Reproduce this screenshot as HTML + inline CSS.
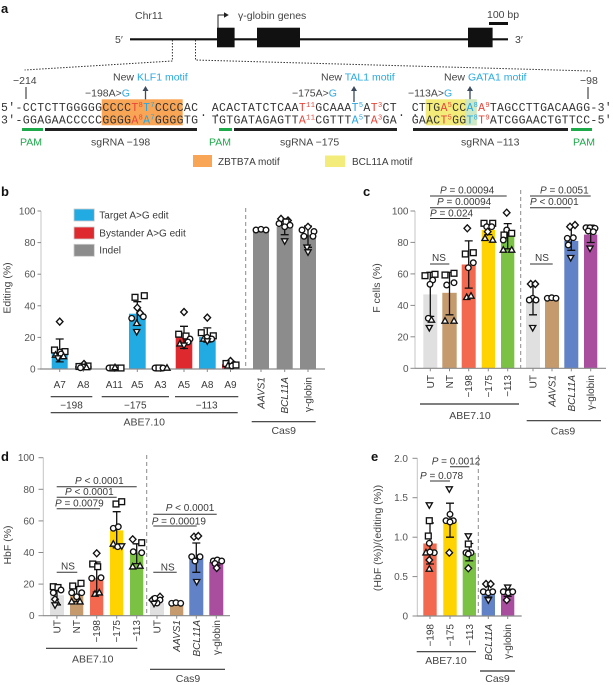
<!DOCTYPE html>
<html><head><meta charset="utf-8"><style>
html,body{margin:0;padding:0;background:#fff;}
svg{display:block;}
.t{font-family:"Liberation Sans",sans-serif;font-size:10px;fill:#3a3a3a;}
.tk{font-family:"Liberation Sans",sans-serif;font-size:10px;fill:#555;}
.lb{font-family:"Liberation Sans",sans-serif;font-size:10.5px;fill:#444;}
.pl{font-family:"Liberation Sans",sans-serif;font-size:13px;font-weight:bold;fill:#111;}
.seq{font-family:"Liberation Mono",monospace;font-size:11.5px;fill:#333;}
.sup{font-size:7px;}
.r{fill:#E8463A;} .bl{fill:#2AA7DF;}
.eb{stroke:#111;stroke-width:1.3;fill:none;}
.ax{stroke:#8a8a8a;stroke-width:1.2;fill:none;}
.ya{stroke:#c4c4c4;stroke-width:1;fill:none;}
.tm{stroke:#8a8a8a;stroke-width:1;}
.sl{stroke:#333;stroke-width:1;}
.dl{stroke:#8a8a8a;stroke-width:1;stroke-dasharray:4,3;}
.gl{stroke:#333;stroke-width:1.2;}
</style></head><body>
<svg width="613" height="685" viewBox="0 0 613 685" xmlns="http://www.w3.org/2000/svg">
<defs>
<circle id="c" r="2.8" fill="#fff" stroke="#111" stroke-width="1.35"/>
<rect id="s" x="-2.9" y="-2.9" width="5.8" height="5.8" fill="#fff" stroke="#111" stroke-width="1.35"/>
<path id="tr" d="M0,-3.3 L3.1,2.2 L-3.1,2.2Z" fill="#fff" stroke="#111" stroke-width="1.35"/>
<path id="iv" d="M0,3.3 L3.1,-2.2 L-3.1,-2.2Z" fill="#fff" stroke="#111" stroke-width="1.35"/>
<path id="dm" d="M0,-3.5 L3.3,0 L0,3.5 L-3.3,0Z" fill="#fff" stroke="#111" stroke-width="1.35"/>
</defs>

<!-- ============ PANEL A ============ -->
<text class="pl" x="1" y="13">a</text>
<text class="lb" x="135" y="19">Chr11</text>
<path d="M218,28 V15 H225" stroke="#222" stroke-width="1" fill="none"/>
<path d="M224,12.3 L228.8,15 L224,17.7Z" fill="#222"/>
<text class="lb" x="238" y="19">γ-globin genes</text>
<text class="lb" x="487" y="18">100 bp</text>
<rect x="489" y="22" width="19" height="3" fill="#111"/>
<line x1="130" y1="39.3" x2="508" y2="39.3" stroke="#111" stroke-width="2.2"/>
<text class="lb" x="115" y="43" font-size="11">5′</text>
<text class="lb" x="515" y="43" font-size="11">3′</text>
<rect x="217" y="27.7" width="17.6" height="19.6" fill="#111"/>
<rect x="257" y="27.7" width="43" height="19.6" fill="#111"/>
<rect x="468" y="27.7" width="24.6" height="19.6" fill="#111"/>
<path d="M172.4,40 V61 L24.6,70 M195.5,40 V60 L591,71" stroke="#333" stroke-width="1" stroke-dasharray="1.5,1.5" fill="none"/>

<text class="lb" x="13" y="84">−214</text>
<text class="lb" x="580" y="84">−98</text>
<line x1="26" y1="87" x2="26" y2="99" stroke="#222" stroke-width="1"/>
<line x1="588" y1="87" x2="588" y2="99" stroke="#222" stroke-width="1"/>

<text class="lb" x="113" y="80.5">New <tspan fill="#29A9E0">KLF1 motif</tspan></text>
<text class="lb" x="321" y="80.5">New <tspan fill="#29A9E0">TAL1 motif</tspan></text>
<text class="lb" x="444" y="80.5">New <tspan fill="#29A9E0">GATA1 motif</tspan></text>

<text class="lb" x="85" y="96.5">−198A&gt;<tspan fill="#29A9E0">G</tspan></text>
<text class="lb" x="292" y="96.5">−175A&gt;<tspan fill="#29A9E0">G</tspan></text>
<text class="lb" x="408" y="96.5">−113A&gt;<tspan fill="#29A9E0">G</tspan></text>
<g stroke="#3C4A5C" stroke-width="1.3" fill="#3C4A5C">
<line x1="145.5" y1="102" x2="145.5" y2="90"/><path d="M142.5,91 L145.5,86 L148.5,91Z" stroke="none"/>
<line x1="354" y1="102" x2="354" y2="90"/><path d="M351,91 L354,86 L357,91Z" stroke="none"/>
<line x1="470" y1="102" x2="470" y2="90"/><path d="M467,91 L470,86 L473,91Z" stroke="none"/>
</g>

<rect x="101.7" y="99.3" width="81" height="26" fill="#F8A656"/>
<rect x="425.7" y="99.3" width="51" height="26" fill="#F3EC7A"/>
<rect x="465" y="99.3" width="11.7" height="26" fill="#CDE8C4"/>

<text class="seq" x="1" y="110.8" textLength="197" lengthAdjust="spacing">5′-CCTCTTGGGGGCCCC<tspan class="r">T</tspan><tspan class="r sup" dy="-4">8</tspan><tspan class="bl" dy="4">T</tspan><tspan class="bl sup" dy="-4">7</tspan><tspan dy="4">CCCCAC</tspan></text>
<text class="seq" x="1" y="123.3" textLength="197" lengthAdjust="spacing">3′-GGAGAACCCCCGGGG<tspan class="r">A</tspan><tspan class="r sup" dy="-4">8</tspan><tspan class="bl" dy="4">A</tspan><tspan class="bl sup" dy="-4">7</tspan><tspan dy="4">GGGGTG</tspan></text>

<text class="seq" x="200" y="116">. .</text>
<text class="seq" x="398" y="116">. .</text>

<text class="seq" x="211.7" y="110.8" textLength="185" lengthAdjust="spacing">ACACTATCTCAA<tspan class="r">T</tspan><tspan class="r sup" dy="-4">11</tspan><tspan dy="4">GCAAA</tspan><tspan class="bl">T</tspan><tspan class="bl sup" dy="-4">5</tspan><tspan dy="4">A</tspan><tspan class="r">T</tspan><tspan class="r sup" dy="-4">3</tspan><tspan dy="4">CT</tspan></text>
<text class="seq" x="211.7" y="123.3" textLength="185" lengthAdjust="spacing">TGTGATAGAGTT<tspan class="r">A</tspan><tspan class="r sup" dy="-4">11</tspan><tspan dy="4">CGTTT</tspan><tspan class="bl">A</tspan><tspan class="bl sup" dy="-4">5</tspan><tspan dy="4">T</tspan><tspan class="r">A</tspan><tspan class="r sup" dy="-4">3</tspan><tspan dy="4">GA</tspan></text>

<text class="seq" x="411.7" y="110.8" textLength="200" lengthAdjust="spacing">CTTG<tspan class="r">A</tspan><tspan class="r sup" dy="-4">5</tspan><tspan dy="4">CC</tspan><tspan class="bl">A</tspan><tspan class="bl sup" dy="-4">8</tspan><tspan class="r" dy="4">A</tspan><tspan class="r sup" dy="-4">9</tspan><tspan dy="4">TAGCCTTGACAAGG-3′</tspan></text>
<text class="seq" x="411.7" y="123.3" textLength="200" lengthAdjust="spacing">GAAC<tspan class="r">T</tspan><tspan class="r sup" dy="-4">5</tspan><tspan dy="4">GG</tspan><tspan class="bl">T</tspan><tspan class="bl sup" dy="-4">8</tspan><tspan class="r" dy="4">T</tspan><tspan class="r sup" dy="-4">9</tspan><tspan dy="4">ATCGGAACTGTTCC-5′</tspan></text>

<rect x="22" y="128" width="21" height="3" fill="#1DA84A"/>
<rect x="45" y="128" width="152" height="3" fill="#222"/>
<rect x="219" y="128" width="13" height="3" fill="#1DA84A"/>
<rect x="234" y="128" width="163" height="3" fill="#222"/>
<rect x="413" y="128" width="155" height="3" fill="#222"/>
<rect x="571" y="128" width="21" height="3" fill="#1DA84A"/>

<text class="lb" x="20" y="145.5" style="fill:#1DA84A">PAM</text>
<text class="lb" x="91" y="145.5">sgRNA −198</text>
<text class="lb" x="209" y="145.5" style="fill:#1DA84A">PAM</text>
<text class="lb" x="280" y="145.5">sgRNA −175</text>
<text class="lb" x="461" y="145.5">sgRNA −113</text>
<text class="lb" x="573" y="145.5" style="fill:#1DA84A">PAM</text>

<rect x="193" y="155" width="19" height="12" fill="#F8A656"/>
<text class="t" x="218" y="165" font-size="9.5">ZBTB7A motif</text>
<rect x="325" y="155.5" width="20" height="11.5" fill="#F3EC7A"/>
<text class="t" x="352" y="165" font-size="9.5">BCL11A motif</text>

<!-- ============ PANEL B ============ -->
<text class="pl" x="1" y="196">b</text>
<text class="lb" transform="rotate(-90 10.5 288)" x="10.5" y="288" text-anchor="middle">Editing (%)</text>
<line class="ya" x1="41" y1="211" x2="41" y2="369"/>
<g class="tm"><line x1="37.5" y1="369" x2="41" y2="369"/><line x1="37.5" y1="337.4" x2="41" y2="337.4"/><line x1="37.5" y1="305.8" x2="41" y2="305.8"/><line x1="37.5" y1="274.2" x2="41" y2="274.2"/><line x1="37.5" y1="242.6" x2="41" y2="242.6"/><line x1="37.5" y1="211" x2="41" y2="211"/></g>
<g class="tk" text-anchor="end"><text x="35.5" y="372.5">0</text><text x="35.5" y="340.9">20</text><text x="35.5" y="309.3">40</text><text x="35.5" y="277.7">60</text><text x="35.5" y="246.1">80</text><text x="35.5" y="214.5">100</text></g>

<rect x="51.7" y="351.6" width="16" height="17.4" fill="#22ABE3"/>
<rect x="75" y="366" width="16.7" height="3" fill="#DE2A2E"/>
<rect x="106" y="367.4" width="16.7" height="1.6" fill="#DE2A2E"/>
<rect x="129" y="313.7" width="16.7" height="55.3" fill="#22ABE3"/>
<rect x="152" y="367.4" width="17" height="1.6" fill="#DE2A2E"/>
<rect x="175.7" y="337.4" width="16.6" height="31.6" fill="#DE2A2E"/>
<rect x="199" y="337" width="16.7" height="32" fill="#22ABE3"/>
<rect x="222" y="364.3" width="17" height="4.7" fill="#DE2A2E"/>
<rect x="253" y="230" width="16" height="139" fill="#8C8C8C"/>
<rect x="276.7" y="226.8" width="16" height="142.2" fill="#8C8C8C"/>
<rect x="300" y="234.7" width="16" height="134.3" fill="#8C8C8C"/>

<line class="dl" x1="245.7" y1="208" x2="245.7" y2="369"/>
<line class="ax" x1="40" y1="369" x2="325" y2="369"/>
<g class="tm"><line x1="59.7" y1="369" x2="59.7" y2="372"/><line x1="83.3" y1="369" x2="83.3" y2="372"/><line x1="114.3" y1="369" x2="114.3" y2="372"/><line x1="137.3" y1="369" x2="137.3" y2="372"/><line x1="160.5" y1="369" x2="160.5" y2="372"/><line x1="184" y1="369" x2="184" y2="372"/><line x1="207.3" y1="369" x2="207.3" y2="372"/><line x1="230.5" y1="369" x2="230.5" y2="372"/><line x1="261" y1="369" x2="261" y2="372"/><line x1="284.7" y1="369" x2="284.7" y2="372"/><line x1="308" y1="369" x2="308" y2="372"/></g>

<path class="eb" d="M59.7,339V361.9M55.7,339H63.7M55.7,361.9H63.7 M83.3,363.5V368.2M79.3,363.5H87.3 M137.3,301.7V325.1M133.3,301.7H141.3M133.3,325.1H141.3 M184,326.3V348.5M180,326.3H188M180,348.5H188 M207.3,327.9V342.1M203.3,327.9H211.3M203.3,342.1H211.3 M230.5,361.1V366.6M226.5,361.1H234.5 M261,228.4V231.5M257,228.4H265 M284.7,218.9V234.7M280.7,218.9H288.7M280.7,234.7H288.7 M308,226V247.3M304,226H312M304,247.3H312"/>

<use href="#dm" x="59.7" y="321.6"/><use href="#s" x="54.5" y="350"/><use href="#s" x="65" y="351.6"/><use href="#c" x="60" y="352"/><use href="#c" x="61" y="354"/><use href="#tr" x="55.5" y="355"/><use href="#tr" x="63.5" y="356.5"/><use href="#iv" x="58" y="358"/>
<use href="#dm" x="84" y="364"/><use href="#s" x="79" y="366.5"/><use href="#s" x="88" y="366"/><use href="#c" x="83" y="367"/><use href="#tr" x="86.5" y="367.5"/><use href="#c" x="80.5" y="367.8"/>
<use href="#c" x="109" y="368"/><use href="#s" x="113" y="368"/><use href="#c" x="117" y="368"/><use href="#s" x="121" y="368"/><use href="#tr" x="115" y="367.5"/>
<use href="#s" x="144.3" y="295.7"/><use href="#s" x="135" y="297.3"/><use href="#dm" x="137.3" y="307.7"/><use href="#dm" x="140" y="313"/><use href="#c" x="131.7" y="318.3"/><use href="#c" x="143.3" y="316.7"/><use href="#tr" x="136.7" y="323.3"/><use href="#iv" x="136.7" y="331.7"/>
<use href="#c" x="155" y="368"/><use href="#s" x="159" y="368"/><use href="#c" x="163" y="368"/><use href="#tr" x="167" y="368"/>
<use href="#dm" x="184" y="312"/><use href="#s" x="178.7" y="334.2"/><use href="#s" x="186" y="336"/><use href="#c" x="190" y="339"/><use href="#c" x="188" y="342"/><use href="#tr" x="180" y="343.7"/><use href="#iv" x="184" y="345.3"/>
<use href="#dm" x="207.3" y="317.6"/><use href="#s" x="201.3" y="332.7"/><use href="#s" x="213.3" y="335.8"/><use href="#c" x="207" y="337.4"/><use href="#tr" x="203.7" y="339"/><use href="#c" x="211.7" y="339"/><use href="#iv" x="207.3" y="341"/>
<use href="#dm" x="230.5" y="361"/><use href="#s" x="226" y="363.5"/><use href="#c" x="234" y="364.3"/><use href="#tr" x="228" y="365.8"/><use href="#c" x="232" y="366"/><use href="#s" x="236" y="365"/>
<use href="#c" x="256" y="230"/><use href="#c" x="261" y="229.3"/><use href="#c" x="266" y="230"/>
<use href="#dm" x="281" y="218.9"/><use href="#dm" x="288" y="220.5"/><use href="#s" x="286" y="222"/><use href="#c" x="279" y="223.6"/><use href="#c" x="290" y="225.2"/><use href="#c" x="284.7" y="226.8"/><use href="#iv" x="284.7" y="241"/>
<use href="#dm" x="308" y="226.8"/><use href="#c" x="302" y="230"/><use href="#c" x="314" y="231.5"/><use href="#c" x="304" y="236.3"/><use href="#c" x="313" y="236.3"/><use href="#iv" x="307" y="247.3"/><use href="#iv" x="308" y="252"/>

<rect x="74" y="209" width="20.3" height="12" fill="#22ABE3" stroke="#ccc" stroke-width="0.8"/>
<rect x="74" y="227" width="20.3" height="12" fill="#DE2A2E" stroke="#ccc" stroke-width="0.8"/>
<rect x="74" y="244.3" width="20.3" height="12" fill="#8C8C8C" stroke="#ccc" stroke-width="0.8"/>
<text class="t" x="99.3" y="218.5">Target A&gt;G edit</text>
<text class="t" x="99.3" y="236.5">Bystander A&gt;G edit</text>
<text class="t" x="99.3" y="253.5">Indel</text>

<g class="t" text-anchor="middle"><text x="59.7" y="388">A7</text><text x="83.3" y="388">A8</text><text x="114.3" y="388">A11</text><text x="137.3" y="388">A5</text><text x="160.5" y="388">A3</text><text x="184" y="388">A5</text><text x="207.3" y="388">A8</text><text x="230.5" y="388">A9</text></g>
<g class="t" text-anchor="end" font-style="italic"><text transform="rotate(-90 264.5 377)" x="264.5" y="377">AAVS1</text><text transform="rotate(-90 288.2 377)" x="288.2" y="377">BCL11A</text></g>
<text class="t" text-anchor="end" transform="rotate(-90 311.5 377)" x="311.5" y="377">γ-globin</text>
<line class="gl" x1="50.7" y1="396.7" x2="92.3" y2="396.7"/><line class="gl" x1="101.7" y1="396.7" x2="169" y2="396.7"/><line class="gl" x1="175" y1="396.7" x2="238.3" y2="396.7"/>
<g class="t" text-anchor="middle"><text x="71.5" y="408.5">−198</text><text x="135.3" y="408.5">−175</text><text x="206.7" y="408.5">−113</text></g>
<line class="gl" x1="50.7" y1="412.7" x2="237.7" y2="412.7"/>
<text class="lb" x="144.2" y="425.5" text-anchor="middle">ABE7.10</text>
<line class="gl" x1="251.7" y1="421.7" x2="315.7" y2="421.7"/>
<text class="lb" x="283.7" y="434" text-anchor="middle">Cas9</text>

<!-- ============ PANEL C ============ -->
<text class="pl" x="363" y="196">c</text>
<text class="lb" transform="rotate(-90 380 288)" x="380" y="288" text-anchor="middle">F cells (%)</text>
<line class="ya" x1="415" y1="211" x2="415" y2="368.3"/>
<g class="tm"><line x1="410.5" y1="368.3" x2="415" y2="368.3"/><line x1="410.5" y1="336.8" x2="415" y2="336.8"/><line x1="410.5" y1="305.4" x2="415" y2="305.4"/><line x1="410.5" y1="273.9" x2="415" y2="273.9"/><line x1="410.5" y1="242.4" x2="415" y2="242.4"/><line x1="410.5" y1="211" x2="415" y2="211"/></g>
<g class="tk" text-anchor="end"><text x="408.5" y="371.8">0</text><text x="408.5" y="340.3">20</text><text x="408.5" y="308.9">40</text><text x="408.5" y="277.4">60</text><text x="408.5" y="245.9">80</text><text x="408.5" y="214.5">100</text></g>

<rect x="423.3" y="294.4" width="14" height="73.9" fill="#E0E0E0"/>
<rect x="442.3" y="292.8" width="14.4" height="75.5" fill="#C59B6D"/>
<rect x="461.7" y="264.5" width="14" height="103.8" fill="#F2694F"/>
<rect x="481.7" y="229.9" width="13.3" height="138.4" fill="#FFD300"/>
<rect x="501" y="234.6" width="13.3" height="133.7" fill="#7BC143"/>
<rect x="526" y="299.1" width="14" height="69.2" fill="#E0E0E0"/>
<rect x="545" y="297.5" width="14" height="70.8" fill="#C59B6D"/>
<rect x="564.3" y="240.9" width="14" height="127.4" fill="#6182C6"/>
<rect x="584" y="234.6" width="13.3" height="133.7" fill="#A94E9F"/>
<line class="dl" x1="520.7" y1="190" x2="520.7" y2="368.3"/>
<line class="ax" x1="415" y1="368.3" x2="606" y2="368.3"/>
<g class="tm"><line x1="430.3" y1="368.3" x2="430.3" y2="371.3"/><line x1="449.5" y1="368.3" x2="449.5" y2="371.3"/><line x1="468.7" y1="368.3" x2="468.7" y2="371.3"/><line x1="488.3" y1="368.3" x2="488.3" y2="371.3"/><line x1="507.7" y1="368.3" x2="507.7" y2="371.3"/><line x1="533" y1="368.3" x2="533" y2="371.3"/><line x1="552" y1="368.3" x2="552" y2="371.3"/><line x1="571.3" y1="368.3" x2="571.3" y2="371.3"/><line x1="590.7" y1="368.3" x2="590.7" y2="371.3"/></g>

<path class="eb" d="M430.3,272.3V316.4M426.3,272.3H434.3M426.3,316.4H434.3 M449.5,272.3V314.8M445.5,272.3H453.5M445.5,314.8H453.5 M468.7,240.9V288.1M464.7,240.9H472.7M464.7,288.1H472.7 M488.3,225.1V234.6M484.3,225.1H492.3M484.3,234.6H492.3 M507.7,223.6V248.8M503.7,223.6H511.7M503.7,248.8H511.7 M533,283.4V314.8M529,283.4H537M529,314.8H537 M552,296.7V298.3 M571.3,225.2V250.3M567.3,225.2H575.3M567.3,250.3H575.3 M590.7,225.2V242.5M586.7,225.2H594.7M586.7,242.5H594.7"/>

<use href="#s" x="425" y="275.7"/><use href="#s" x="435" y="274.3"/><use href="#c" x="432.7" y="280"/><use href="#c" x="430" y="284.3"/><use href="#c" x="428.3" y="318.3"/><use href="#tr" x="431.5" y="320"/><use href="#iv" x="429.3" y="327.7"/>
<use href="#s" x="445" y="275"/><use href="#s" x="454" y="273.3"/><use href="#c" x="446.7" y="285"/><use href="#c" x="454" y="282.7"/><use href="#tr" x="445" y="321"/><use href="#tr" x="454" y="321"/>
<use href="#dm" x="467.3" y="228.3"/><use href="#s" x="465.3" y="254"/><use href="#s" x="473.3" y="252.7"/><use href="#c" x="473.3" y="262.7"/><use href="#c" x="468.3" y="267.7"/><use href="#tr" x="466.7" y="297.3"/><use href="#tr" x="471" y="296"/>
<use href="#s" x="484" y="223.3"/><use href="#s" x="492.7" y="223.3"/><use href="#c" x="486.7" y="226.7"/><use href="#c" x="491.7" y="226.7"/><use href="#dm" x="487.7" y="231.7"/><use href="#tr" x="485" y="238.3"/><use href="#tr" x="492.7" y="240"/>
<use href="#dm" x="506.7" y="212.7"/><use href="#c" x="506.7" y="230"/><use href="#s" x="504" y="235"/><use href="#s" x="511.7" y="233.3"/><use href="#c" x="503.3" y="240"/><use href="#tr" x="503.3" y="250"/><use href="#tr" x="511.7" y="250"/>
<use href="#dm" x="530.7" y="284"/><use href="#dm" x="535.3" y="284"/><use href="#c" x="532.7" y="298.3"/><use href="#c" x="529.3" y="300"/><use href="#c" x="536" y="300"/><use href="#iv" x="532.7" y="327.7"/>
<use href="#c" x="547.3" y="298.3"/><use href="#c" x="551.7" y="297.7"/><use href="#c" x="556" y="298.3"/>
<use href="#dm" x="570" y="226.7"/><use href="#dm" x="575" y="225"/><use href="#c" x="567.3" y="238.3"/><use href="#c" x="573.3" y="237.7"/><use href="#c" x="568.3" y="245"/><use href="#iv" x="570.7" y="257.7"/>
<use href="#c" x="586" y="227.7"/><use href="#c" x="590" y="227.7"/><use href="#c" x="595" y="228.3"/><use href="#c" x="588.3" y="231"/><use href="#c" x="593.3" y="231.7"/><use href="#iv" x="590" y="248.3"/>

<g class="t"><text x="440" y="193.5"><tspan font-style="italic">P</tspan> = 0.00094</text><text x="437" y="205.2"><tspan font-style="italic">P</tspan> = 0.00094</text><text x="430" y="216.5"><tspan font-style="italic">P</tspan> = 0.024</text><text x="540" y="193.5"><tspan font-style="italic">P</tspan> = 0.0051</text><text x="530" y="205.2"><tspan font-style="italic">P</tspan> &lt; 0.0001</text></g>
<g class="sl"><line x1="430" y1="196" x2="506.7" y2="196"/><line x1="430" y1="207.7" x2="490" y2="207.7"/><line x1="430" y1="218.5" x2="470" y2="218.5"/><line x1="530" y1="196" x2="590.7" y2="196"/><line x1="530" y1="207.7" x2="570.7" y2="207.7"/><line x1="430" y1="264" x2="449.3" y2="264"/><line x1="530" y1="264" x2="552.7" y2="264"/></g>
<g class="t" text-anchor="middle"><text x="439" y="261">NS</text><text x="542" y="261">NS</text></g>

<g class="t" text-anchor="end"><text transform="rotate(-90 433.8 375)" x="433.8" y="375">UT</text><text transform="rotate(-90 453 375)" x="453" y="375">NT</text><text transform="rotate(-90 472.2 375)" x="472.2" y="375">−198</text><text transform="rotate(-90 491.8 375)" x="491.8" y="375">−175</text><text transform="rotate(-90 511.2 375)" x="511.2" y="375">−113</text><text transform="rotate(-90 536.5 375)" x="536.5" y="375">UT</text><text transform="rotate(-90 555.5 375)" x="555.5" y="375" font-style="italic">AAVS1</text><text transform="rotate(-90 574.8 375)" x="574.8" y="375" font-style="italic">BCL11A</text><text transform="rotate(-90 594.2 375)" x="594.2" y="375">γ-globin</text></g>
<line class="gl" x1="420" y1="404" x2="519" y2="404"/>
<text class="lb" x="470" y="419" text-anchor="middle">ABE7.10</text>
<line class="gl" x1="526.7" y1="420.7" x2="601" y2="420.7"/>
<text class="lb" x="563" y="434.5" text-anchor="middle">Cas9</text>

<!-- ============ PANEL D ============ -->
<text class="pl" x="1" y="461">d</text>
<text class="lb" transform="rotate(-90 11 545)" x="11" y="545" text-anchor="middle">HbF (%)</text>
<line class="ya" x1="43.3" y1="457.7" x2="43.3" y2="615.7"/>
<g class="tm"><line x1="38.5" y1="615.7" x2="43.3" y2="615.7"/><line x1="38.5" y1="584.1" x2="43.3" y2="584.1"/><line x1="38.5" y1="552.5" x2="43.3" y2="552.5"/><line x1="38.5" y1="520.9" x2="43.3" y2="520.9"/><line x1="38.5" y1="489.3" x2="43.3" y2="489.3"/><line x1="38.5" y1="457.7" x2="43.3" y2="457.7"/></g>
<g class="tk" text-anchor="end"><text x="34.5" y="619.2">0</text><text x="34.5" y="587.6">20</text><text x="34.5" y="556">40</text><text x="34.5" y="524.4">60</text><text x="34.5" y="492.8">80</text><text x="34.5" y="461.2">100</text></g>

<rect x="50" y="595.2" width="14" height="20.5" fill="#E0E0E0"/>
<rect x="70" y="595.2" width="13.3" height="20.5" fill="#C59B6D"/>
<rect x="90" y="577.8" width="13.3" height="37.9" fill="#F2694F"/>
<rect x="110" y="530.4" width="13.3" height="85.3" fill="#FFD300"/>
<rect x="130" y="552.5" width="13.3" height="63.2" fill="#7BC143"/>
<rect x="150" y="603.1" width="14" height="12.6" fill="#E0E0E0"/>
<rect x="170" y="604.6" width="13.3" height="11.1" fill="#C59B6D"/>
<rect x="189.3" y="557.2" width="14" height="58.5" fill="#6182C6"/>
<rect x="209.3" y="562" width="14" height="53.7" fill="#A94E9F"/>
<line class="dl" x1="146.7" y1="455" x2="146.7" y2="615.7"/>
<line class="ax" x1="43" y1="615.7" x2="230" y2="615.7"/>
<g class="tm"><line x1="57" y1="615.7" x2="57" y2="618.7"/><line x1="76.7" y1="615.7" x2="76.7" y2="618.7"/><line x1="96.7" y1="615.7" x2="96.7" y2="618.7"/><line x1="116.7" y1="615.7" x2="116.7" y2="618.7"/><line x1="136.7" y1="615.7" x2="136.7" y2="618.7"/><line x1="157" y1="615.7" x2="157" y2="618.7"/><line x1="176.7" y1="615.7" x2="176.7" y2="618.7"/><line x1="196.3" y1="615.7" x2="196.3" y2="618.7"/><line x1="216.3" y1="615.7" x2="216.3" y2="618.7"/></g>

<path class="eb" d="M57,584.9V604.6M53,584.9H61M53,604.6H61 M76.7,586.5V601.5M72.7,586.5H80.7M72.7,601.5H80.7 M96.7,562V592M92.7,562H100.7M92.7,592H100.7 M116.7,511.7V547.8M112.7,511.7H120.7M112.7,547.8H120.7 M136.7,543.8V563.6M132.7,543.8H140.7M132.7,563.6H140.7 M157,598.3V606.2M153,598.3H161 M176.7,603.5V605.4 M196.3,543V572.3M192.3,543H200.3M192.3,572.3H200.3 M216.3,558.8V565.1M212.3,558.8H220.3M212.3,565.1H220.3"/>

<use href="#s" x="53.3" y="586.7"/><use href="#s" x="58" y="587.5"/><use href="#c" x="61" y="590"/><use href="#c" x="53.3" y="592.7"/><use href="#dm" x="55" y="599.3"/><use href="#tr" x="57" y="602.7"/><use href="#iv" x="55" y="605"/>
<use href="#s" x="72.7" y="586"/><use href="#s" x="81" y="583.3"/><use href="#c" x="71.7" y="592.7"/><use href="#c" x="81.7" y="592.7"/><use href="#c" x="76.7" y="596.7"/><use href="#tr" x="71.7" y="601.7"/><use href="#tr" x="80" y="601.7"/>
<use href="#dm" x="96.7" y="553.3"/><use href="#s" x="92.7" y="564"/><use href="#s" x="97.7" y="566.7"/><use href="#c" x="91.7" y="578.3"/><use href="#c" x="101" y="577.7"/><use href="#tr" x="95" y="594"/><use href="#tr" x="99.3" y="592.7"/>
<use href="#s" x="116" y="504"/><use href="#s" x="121.7" y="501.7"/><use href="#c" x="113.3" y="528.3"/><use href="#c" x="118.3" y="526.7"/><use href="#tr" x="113.3" y="544"/><use href="#c" x="117.7" y="546.7"/><use href="#iv" x="121.7" y="546"/>
<use href="#dm" x="132.7" y="539.3"/><use href="#s" x="141.7" y="542.7"/><use href="#c" x="133.3" y="551.7"/><use href="#c" x="141.7" y="552.7"/><use href="#tr" x="132.7" y="566.7"/><use href="#tr" x="140" y="566"/>
<use href="#dm" x="152.3" y="600"/><use href="#dm" x="160" y="596.7"/><use href="#c" x="155" y="598.3"/><use href="#c" x="160" y="600"/><use href="#c" x="157" y="603"/><use href="#iv" x="154" y="603.5"/>
<use href="#c" x="171.7" y="603.3"/><use href="#c" x="176" y="602.7"/><use href="#c" x="180.7" y="603.3"/>
<use href="#dm" x="194" y="536.7"/><use href="#dm" x="198.3" y="536"/><use href="#c" x="191.7" y="556.7"/><use href="#c" x="200" y="556.7"/><use href="#c" x="195" y="561"/><use href="#iv" x="196.7" y="581.7"/>
<use href="#c" x="213.3" y="561"/><use href="#c" x="217.3" y="560"/><use href="#c" x="221.7" y="561"/><use href="#c" x="215" y="563.5"/><use href="#dm" x="216.7" y="568"/>

<g class="t"><text x="75" y="484"><tspan font-style="italic">P</tspan> &lt; 0.0001</text><text x="65" y="494.8"><tspan font-style="italic">P</tspan> &lt; 0.0001</text><text x="55" y="506.5"><tspan font-style="italic">P</tspan> = 0.0079</text><text x="165.7" y="511"><tspan font-style="italic">P</tspan> &lt; 0.0001</text><text x="151.7" y="524.3"><tspan font-style="italic">P</tspan> = 0.00019</text></g>
<g class="sl"><line x1="56.7" y1="486.7" x2="136.7" y2="486.7"/><line x1="56.7" y1="497.3" x2="116.7" y2="497.3"/><line x1="56.7" y1="508.8" x2="100" y2="508.8"/><line x1="56.7" y1="572.3" x2="77.3" y2="572.3"/><line x1="153.3" y1="514.3" x2="216.7" y2="514.3"/><line x1="153.3" y1="526" x2="196.7" y2="526"/><line x1="153.3" y1="572.3" x2="176.7" y2="572.3"/></g>
<g class="t" text-anchor="middle"><text x="68" y="569.5">NS</text><text x="167.7" y="570.5">NS</text></g>

<g class="t" text-anchor="end"><text transform="rotate(-90 60.5 620)" x="60.5" y="620">UT</text><text transform="rotate(-90 80.2 620)" x="80.2" y="620">NT</text><text transform="rotate(-90 100.2 620)" x="100.2" y="620">−198</text><text transform="rotate(-90 120.2 620)" x="120.2" y="620">−175</text><text transform="rotate(-90 140.2 620)" x="140.2" y="620">−113</text><text transform="rotate(-90 160.5 620)" x="160.5" y="620">UT</text><text transform="rotate(-90 180.2 620)" x="180.2" y="620" font-style="italic">AAVS1</text><text transform="rotate(-90 199.8 620)" x="199.8" y="620" font-style="italic">BCL11A</text><text transform="rotate(-90 219.8 620)" x="219.8" y="620">γ-globin</text></g>
<line class="gl" x1="46" y1="648.3" x2="137.3" y2="648.3"/>
<text class="lb" x="92.7" y="662.5" text-anchor="middle">ABE7.10</text>
<line class="gl" x1="150" y1="669.3" x2="225" y2="669.3"/>
<text class="lb" x="188" y="682" text-anchor="middle">Cas9</text>

<!-- ============ PANEL E ============ -->
<text class="pl" x="371" y="461">e</text>
<text class="lb" transform="rotate(-90 381 538)" x="381" y="538" text-anchor="middle">(HbF (%))/(editing (%))</text>
<line class="ya" x1="417.3" y1="458.3" x2="417.3" y2="616"/>
<g class="tm"><line x1="412.5" y1="616" x2="417.3" y2="616"/><line x1="412.5" y1="576.6" x2="417.3" y2="576.6"/><line x1="412.5" y1="537.2" x2="417.3" y2="537.2"/><line x1="412.5" y1="497.7" x2="417.3" y2="497.7"/><line x1="412.5" y1="458.3" x2="417.3" y2="458.3"/></g>
<g class="tk" text-anchor="end"><text x="408" y="619.5">0</text><text x="408" y="580.1">0.5</text><text x="408" y="540.7">1.0</text><text x="408" y="501.2">1.5</text><text x="408" y="461.8">2.0</text></g>

<rect x="423.3" y="543.5" width="13.4" height="72.5" fill="#F2694F"/>
<rect x="443.3" y="521.4" width="13.4" height="94.6" fill="#FFD300"/>
<rect x="462.7" y="552.9" width="13.3" height="63.1" fill="#7BC143"/>
<rect x="481.7" y="592.3" width="13.3" height="23.7" fill="#6182C6"/>
<rect x="501" y="593.1" width="13.3" height="22.9" fill="#A94E9F"/>
<line class="dl" x1="478.3" y1="455" x2="478.3" y2="616"/>
<line class="ax" x1="417" y1="616" x2="521.7" y2="616"/>
<g class="tm"><line x1="430" y1="616" x2="430" y2="619"/><line x1="450" y1="616" x2="450" y2="619"/><line x1="469.3" y1="616" x2="469.3" y2="619"/><line x1="488.3" y1="616" x2="488.3" y2="619"/><line x1="507.7" y1="616" x2="507.7" y2="619"/></g>

<path class="eb" d="M430,523V564M426,523H434M426,564H434 M450,503.2V537.2M446,503.2H454M446,537.2H454 M469.3,543.5V560.8M465.3,543.5H473.3M465.3,560.8H473.3 M488.3,586V597M484.3,586H492.3M484.3,597H492.3 M507.7,589.2V596.3M503.7,589.2H511.7M503.7,596.3H511.7"/>

<use href="#iv" x="429.3" y="505"/><use href="#s" x="429.3" y="520.7"/><use href="#s" x="428.3" y="536"/><use href="#c" x="429.3" y="543.3"/><use href="#tr" x="426" y="552.7"/><use href="#c" x="434.3" y="552.7"/><use href="#c" x="430" y="552"/><use href="#dm" x="429.3" y="560"/><use href="#tr" x="429.3" y="569"/>
<use href="#iv" x="449.3" y="489"/><use href="#c" x="450" y="514.3"/><use href="#c" x="446" y="520.7"/><use href="#c" x="453.3" y="520.7"/><use href="#c" x="450" y="522"/><use href="#dm" x="449.3" y="552.7"/>
<use href="#iv" x="468.3" y="536"/><use href="#s" x="468.3" y="544"/><use href="#c" x="466" y="552.7"/><use href="#c" x="471" y="552.7"/><use href="#c" x="468.3" y="554"/><use href="#dm" x="468.3" y="568.3"/>
<use href="#dm" x="486" y="584"/><use href="#dm" x="490.7" y="584"/><use href="#c" x="483.3" y="591.7"/><use href="#c" x="488.3" y="592.7"/><use href="#c" x="492.7" y="591.7"/><use href="#iv" x="488.3" y="600"/>
<use href="#iv" x="507.7" y="587.3"/><use href="#c" x="503.3" y="591.7"/><use href="#c" x="508.3" y="592.7"/><use href="#c" x="512.7" y="591.7"/><use href="#dm" x="506.7" y="600"/>

<g class="t"><text x="431.7" y="464.5"><tspan font-style="italic">P</tspan> = 0.0012</text><text x="420" y="479"><tspan font-style="italic">P</tspan> = 0.078</text></g>
<g class="sl"><line x1="450" y1="466.7" x2="469.3" y2="466.7"/><line x1="430" y1="481" x2="450" y2="481"/></g>

<g class="t" text-anchor="end"><text transform="rotate(-90 433.5 624)" x="433.5" y="624">−198</text><text transform="rotate(-90 453.5 624)" x="453.5" y="624">−175</text><text transform="rotate(-90 472.8 624)" x="472.8" y="624">−113</text><text transform="rotate(-90 491.8 624)" x="491.8" y="624" font-style="italic">BCL11A</text><text transform="rotate(-90 511.2 624)" x="511.2" y="624">γ-globin</text></g>
<line class="gl" x1="416.7" y1="651.7" x2="476" y2="651.7"/>
<text class="lb" x="446" y="664" text-anchor="middle">ABE7.10</text>
<line class="gl" x1="480" y1="671" x2="515" y2="671"/>
<text class="lb" x="497.5" y="682" text-anchor="middle">Cas9</text>
</svg>
</body></html>
